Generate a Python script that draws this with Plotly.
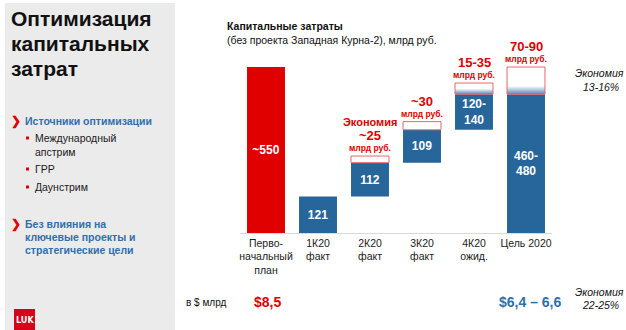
import plotly.graph_objects as go

W, H = 626, 330

categories = ["Перво-<br>начальный<br>план", "1К20<br>факт", "2К20<br>факт", "3К20<br>факт", "4К20<br>ожид.", "Цель 2020"]
# waterfall blue bars: base and height (as drawn)
plan_value = 550
blue_base = [121, 233, 342]           # for 2K20, 3K20, 4K20
blue_height = [121, 112, 109, 118, 460]  # 1K20 .. Цель 2020
blue_labels = ["121", "112", "109", "120-<br>140", "460-<br>480"]
# savings boxes drawn above bars (categories 2..5)
box_height = [22, 27, 37, 90]
savings_labels = ["~25", "~30", "15-35", "70-90"]

RED = "#e00000"
BLUE = "#27669a"
BOXRED = "#e8676d"
TXTBLUE = "#2f6fae"
FONT = "Liberation Sans, Arial, sans-serif"

x_pos = list(range(len(categories)))
bw = 0.73

fig = go.Figure()

# red planned bar
fig.add_trace(go.Bar(x=[0], y=[plan_value], width=bw, marker=dict(color=RED, line_width=0),
                     text=["<b>~" + str(plan_value) + "</b>"], textposition="inside", insidetextanchor="middle",
                     textfont=dict(color="white", size=12, family=FONT), hoverinfo="skip"))

bases = [0] + blue_base + [0]
fig.add_trace(go.Bar(x=x_pos[1:], y=blue_height, base=bases, width=bw,
                     marker=dict(color=BLUE, line_width=0),
                     text=["<b>" + s + "</b>" for s in blue_labels], textposition="inside",
                     insidetextanchor="middle",
                     textfont=dict(color="white", size=12, family=FONT), hoverinfo="skip"))

# savings boxes
tops = [b + h for b, h in zip(bases, blue_height)][1:]  # tops for categories 2..5
grad_frac = [0.0, 0.0, 0.5, 0.3]
for i, (t, bh, gf) in enumerate(zip(tops, box_height, grad_frac)):
    c = x_pos[2 + i]
    xs = [c - bw / 2, c + bw / 2, c + bw / 2, c - bw / 2, c - bw / 2]
    ys = [t, t, t + bh, t + bh, t]
    if gf > 0:
        grad = dict(type="vertical", colorscale=[[0, "#5b87b1"], [gf, "#ffffff"], [1, "#ffffff"]])
    else:
        grad = dict(type="vertical", colorscale=[[0, "#ffffff"], [1, "#ffffff"]])
    fig.add_trace(go.Scatter(x=xs, y=ys, mode="lines", fill="toself", fillgradient=grad,
                             line=dict(color=BOXRED, width=1), hoverinfo="skip"))
    top = t + bh
    fig.add_annotation(x=c, y=top, xref="x", yref="y", text="<b>млрд руб.</b>", showarrow=False,
                       yanchor="bottom", yshift=1, font=dict(size=8.5, color=RED, family=FONT))
    fig.add_annotation(x=c, y=top, xref="x", yref="y", text="<b>" + savings_labels[i] + "</b>",
                       showarrow=False, yanchor="bottom", yshift=11, font=dict(size=13, color=RED, family=FONT))
    if i == 0:
        fig.add_annotation(x=c, y=top, xref="x", yref="y", text="<b>Экономия</b>", showarrow=False,
                           yanchor="bottom", yshift=26, font=dict(size=11, color=RED, family=FONT))


def px(x):
    return x / W


def py(y):
    return 1 - y / H


shapes = []
# left gray panel
shapes.append(dict(type="rect", xref="paper", yref="paper", x0=px(5), x1=px(175), y0=0, y1=py(3),
                   fillcolor="#ebebeb", line_width=0, layer="below"))
# logo
shapes.append(dict(type="rect", xref="paper", yref="paper", x0=px(14), x1=px(35), y0=0, y1=py(309),
                   fillcolor="#d9001b", line_width=0))
# bullet squares
for yy in [138, 169, 187]:
    shapes.append(dict(type="rect", xref="paper", yref="paper", x0=px(26), x1=px(29), y0=py(yy + 1.5), y1=py(yy - 1.5),
                       fillcolor=RED, line_width=0))

ann = []


def txt(x, y, s, size=11, color="#1a1a1a", xanchor="left", bold=False, italic=False):
    if bold:
        s = "<b>" + s + "</b>"
    if italic:
        s = "<i>" + s + "</i>"
    ann.append(dict(x=px(x), y=py(y), xref="paper", yref="paper", text=s, showarrow=False,
                    xanchor=xanchor, yanchor="middle", font=dict(size=size, color=color, family=FONT)))


# big title
for yy, s in zip([18, 43, 68], ["Оптимизация", "капитальных", "затрат"]):
    txt(9, yy, s, size=21, bold=True, color="#111111")

txt(9, 121, "❯", size=12, color=RED, bold=True)
txt(23, 121, "Источники оптимизации", size=10.5, color=TXTBLUE, bold=True)
txt(33, 138, "Международный", size=10.5)
txt(33, 152, "апстрим", size=10.5)
txt(33, 169, "ГРР", size=10.5)
txt(33, 187, "Даунстрим", size=10.5)
txt(9, 224, "❯", size=12, color=RED, bold=True)
txt(23, 224, "Без влияния на", size=10.5, color=TXTBLUE, bold=True)
txt(23, 237, "ключевые проекты и", size=10.5, color=TXTBLUE, bold=True)
txt(23, 250, "стратегические цели", size=10.5, color=TXTBLUE, bold=True)

# logo text
ann.append(dict(x=px(24.5), y=py(319.5), xref="paper", yref="paper", text="<b>LUK</b>", showarrow=False,
                xanchor="center", yanchor="middle", font=dict(size=9, color="white", family="DejaVu Sans Condensed, Liberation Sans Narrow, sans-serif")))

# chart title
txt(225, 26, "Капитальные затраты", size=10.5, bold=True, color="#111111")
txt(225, 40, "(без проекта Западная Курна-2), млрд руб.", size=10.5, color="#111111")

# right notes
txt(573, 73, "Экономия", size=10.5, italic=True, color="#111111")
txt(621, 87, "13-16%", size=10.5, italic=True, color="#111111", xanchor="right")
txt(573, 292, "Экономия", size=10.5, italic=True, color="#111111")
txt(621, 305, "22-25%", size=10.5, italic=True, color="#111111", xanchor="right")

# bottom row
txt(184, 302, "в $ млрд", size=10, color="#111111")
txt(252, 302, "$8,5", size=14, bold=True, color=RED)
txt(497, 302, "$6,4 – 6,6", size=14, bold=True, color=TXTBLUE)

baseline_y = 233
top_y = 37
scale = 166 / 550.0
ymax = (baseline_y - top_y) / scale

fig.update_layout(
    width=W, height=H, margin=dict(l=0, r=0, t=0, b=0),
    paper_bgcolor="white", plot_bgcolor="rgba(0,0,0,0)",
    showlegend=False, barmode="overlay",
    shapes=shapes, annotations=list(fig.layout.annotations) + ann,
    uniformtext=dict(minsize=12, mode="show"),
    xaxis=dict(domain=[px(240), px(552)], range=[-0.5, 5.5], tickmode="array", tickvals=x_pos,
               ticktext=categories, showgrid=False, zeroline=False, showline=True, linecolor="#d9d9d9",
               linewidth=1, ticks="", tickfont=dict(size=10.5, color="#222222", family=FONT), fixedrange=True),
    yaxis=dict(domain=[1 - baseline_y / H, 1 - top_y / H], range=[0, ymax], visible=False, fixedrange=True),
)

fig.write_html("out.html")
